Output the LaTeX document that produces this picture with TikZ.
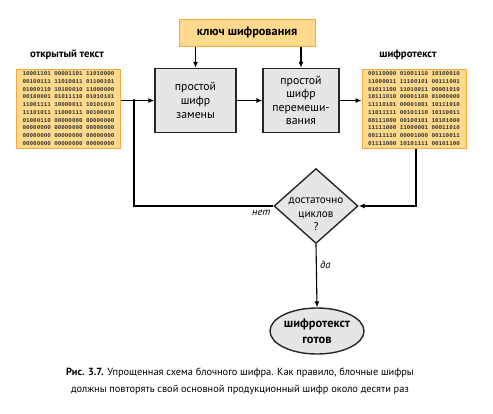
\documentclass[tikz,border=0pt]{standalone}
\usepackage{fontspec}
\setmainfont{PT Sans}
\newfontfamily\bitsfont{Liberation Mono}
\usetikzlibrary{shapes.geometric,arrows.meta}
\definecolor{keyfill}{HTML}{FFD98C}
\definecolor{keyline}{HTML}{F7A83E}
\definecolor{boxfill}{HTML}{E6E6E6}

\begin{document}
\begin{tikzpicture}[x=1bp, y=-1bp, line width=1.1bp, >={Latex[length=6bp,width=5bp]},
    stagebox/.style={draw=black!85, fill=boxfill, line width=1.4bp, minimum height=64bp,
      align=center, inner sep=1bp, font=\fontsize{11.8}{14}\selectfont},
    bitsbox/.style={draw=keyline, fill=keyfill, line width=1bp, minimum width=104bp,
      minimum height=79bp, align=left, inner sep=2bp, text=black!80,
      font=\bitsfont\bfseries\fontsize{5.9}{7.75}\selectfont},
    headlabel/.style={font=\bfseries\fontsize{10.8}{12}\selectfont},
    answer/.style={font=\itshape\fontsize{10.5}{12}\selectfont}]
        \useasboundingbox (0,0) rectangle (493,413);

        % Key
        \node[draw=keyline, fill=keyfill, line width=1bp, minimum width=136bp, minimum height=27bp,
          font=\bfseries\fontsize{12.3}{13}\selectfont] (key) at (247,32.5) {ключ шифрования};

        % Plain text and cipher text
        \node[headlabel] (plainlabel) at (67,55) {открытый текст};
        \node[bitsbox] (plain) at (68.5,108.5) {10001101 00001101 11010000\\00100111 11010011 01100101\\01000110 10100010 11000000\\00100001 01011110 01010101\\11001111 10000011 10101010\\11101011 11000111 00100010\\01000110 00000000 00000000\\00000000 00000000 00000000\\00000000 00000000 00000000\\00000000 00000000 00000000};
        \node[headlabel] (cipherlabel) at (408,55) {шифротекст};
        \node[bitsbox] (cipher) at (414,108.5) {00110000 01001110 10100010\\11000011 11100101 00111001\\01011100 11010011 00001010\\10111010 00001100 01000000\\11110101 00001001 10111010\\11011111 00101110 10110011\\00111000 00100101 10101000\\11111000 11000001 00011010\\00111110 00001000 00110011\\01111000 10101111 00101100};

        % Round stages
        \node[stagebox, minimum width=81bp] (subst) at (195.5,100.5) {простой\\шифр\\замены};
        \node[stagebox, minimum width=76bp, font=\fontsize{11.8}{13.5}\selectfont] (perm) at (301,100.5) {простой\\шифр\\перемеши-\\вания};

        % Loop test and result
        \node[diamond, draw=black!85, fill=boxfill, line width=1.4bp, inner sep=0pt,
          minimum width=84bp, minimum height=75bp] (check) at (316,206) {};
        \node[align=center, font=\fontsize{11.2}{13.5}\selectfont] (checktext) at (316,214.5) {достаточно\\циклов\\?};
        \node[ellipse, draw=black!85, fill=boxfill, line width=1.4bp, minimum width=94bp,
          minimum height=46bp, inner sep=0pt, align=center, font=\bfseries\fontsize{12.5}{16}\selectfont] (done) at (317,331) {шифротекст\\готов};

        % Connectors
        \coordinate (join) at (134,100.5);
        \draw[->] (plain.east |- subst.west) -- (subst.west);
        \draw[->] (subst) -- (perm);
        \draw[->] (perm.east) -- (cipher.west |- perm.east);
        \draw[->] (key.south -| subst.north) -- (subst.north);
        \draw[->] (key.south -| perm.north) -- (perm.north);
        \draw[->] ([xshift=2bp]cipher.south) -- ([xshift=2bp]cipher.south |- check.east) -- (check.east);
        \draw (check.west) -- (check.west -| join) -- (join);
        \fill (join) circle (1.6bp);
        \draw[->] (check.south) -- node[answer, right, pos=0.33] {да} (done.north);
        \node[answer, below left, xshift=1bp] (nolabel) at (check.west) {нет};

        % Caption
        \node[align=center, font=\fontsize{10.4}{17}\selectfont] (caption) at (240,381.5)
          {\textbf{Рис. 3.7.} Упрощенная схема блочного шифра. Как правило, блочные шифры\\должны повторять свой основной продукционный шифр около десяти раз};
    \end{tikzpicture}
\end{document}
